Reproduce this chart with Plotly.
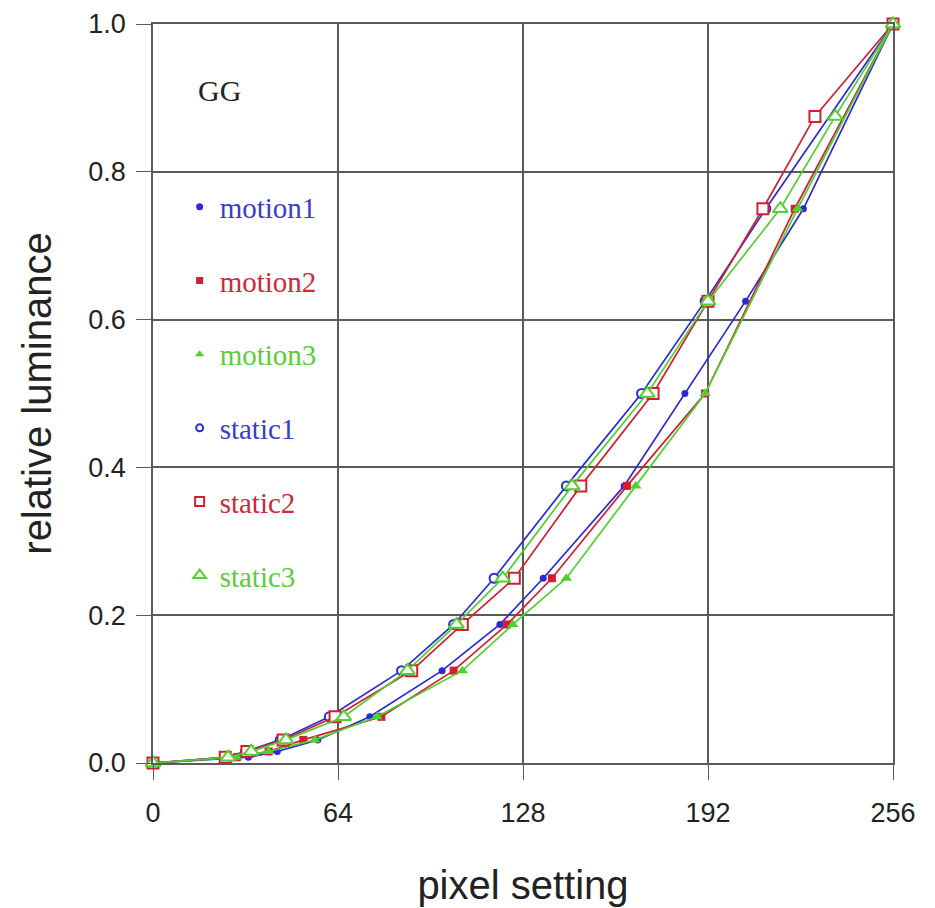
import plotly.graph_objects as go

# ---- data ----
levels_full = [0, 1/128, 1/64, 1/32, 1/16, 1/8, 3/16, 1/4, 3/8, 1/2, 5/8, 3/4, 7/8, 1.0]

motion1_x = [0, 33, 43, 57, 75, 100, 120, 135, 163, 184, 205, 225, 256]
motion1_y = [0, 1/128, 1/64, 1/32, 1/16, 1/8, 3/16, 1/4, 3/8, 1/2, 5/8, 3/4, 1.0]

motion2_x = [0, 29, 40, 52, 79, 104, 122.5, 138, 164, 191, 222, 256]
motion2_y = [0, 1/128, 1/64, 1/32, 1/16, 1/8, 3/16, 1/4, 3/8, 1/2, 3/4, 1.0]

motion3_x = [0, 29, 40, 56, 77.5, 107, 124.5, 143, 167, 191, 223, 256]
motion3_y = [0, 1/128, 1/64, 1/32, 1/16, 1/8, 3/16, 1/4, 3/8, 1/2, 3/4, 1.0]

static1_x = [0, 25, 32, 44, 61, 86, 104, 118, 143, 169, 191, 212, 256]
static1_y = [0, 1/128, 1/64, 1/32, 1/16, 1/8, 3/16, 1/4, 3/8, 1/2, 5/8, 3/4, 1.0]

static2_x = [0, 25, 32.5, 45, 63, 89.5, 107, 125, 148, 173, 192, 211, 229, 256]
static2_y = levels_full

static3_x = [0, 26, 34, 46, 66, 88, 105, 121, 145, 171, 192, 217, 236, 256]
static3_y = levels_full

x_ticks = [0, 64, 128, 192, 256]
y_ticks = [0.0, 0.2, 0.4, 0.6, 0.8, 1.0]
y_ticklabels = ["0.0", "0.2", "0.4", "0.6", "0.8", "1.0"]

BLUE = "#2a2ad6"
RED = "#d21f2f"
GREEN = "#4fd12f"
BLUE_T = "#3b3bcc"
RED_T = "#cc2a3a"
GREEN_T = "#5acc3a"

series = [
    ("motion1", motion1_x, motion1_y, BLUE, BLUE_T, dict(symbol="circle", size=7, color=BLUE, line=dict(width=0))),
    ("motion2", motion2_x, motion2_y, RED, RED_T, dict(symbol="square", size=8, color=RED, line=dict(width=0))),
    ("motion3", motion3_x, motion3_y, GREEN, GREEN_T, dict(symbol="triangle-up", size=10, color=GREEN, line=dict(width=0))),
    ("static1", static1_x, static1_y, BLUE, BLUE_T, dict(symbol="circle", size=9, color="white", line=dict(width=2, color=BLUE))),
    ("static2", static2_x, static2_y, RED, RED_T, dict(symbol="square", size=11, color="white", line=dict(width=2, color=RED))),
    ("static3", static3_x, static3_y, GREEN, GREEN_T, dict(symbol="triangle-up", size=13, color="white", line=dict(width=2, color=GREEN))),
]

fig = go.Figure()
for name, xs, ys, col, tcol, mk in series:
    fig.add_trace(go.Scatter(
        x=xs, y=ys, mode="lines+markers", name=name,
        line=dict(color=col, width=1.7), marker=mk,
        showlegend=False, cliponaxis=False,
    ))
# legend-only entries (marker only, coloured text)
for name, xs, ys, col, tcol, mk in series:
    lm = dict(mk)
    lm["size"] = max(7, mk["size"] - 2)
    if "line" in lm and lm["line"].get("width", 0) > 0:
        lm["line"] = dict(width=2, color=col)
    fig.add_trace(go.Scatter(
        x=[None], y=[None], mode="markers",
        name=f'<span style="color:{tcol}">{name}</span>',
        marker=lm, legendgroup=name, showlegend=True,
    ))

fig.add_annotation(
    x=0.058, y=0.91, xref="paper", yref="paper", xanchor="left", yanchor="middle",
    text="GG", showarrow=False,
    font=dict(family="Liberation Serif, Times New Roman, serif", size=30, color="#222"),
)

axis_common = dict(
    showgrid=True, gridcolor="#5a5a5a", gridwidth=1.5,
    showline=True, linecolor="#5a5a5a", linewidth=1.5, mirror=True,
    ticks="outside", ticklen=15, tickwidth=1.2, tickcolor="#5a5a5a",
    zeroline=False, automargin=False,
    tickfont=dict(family="Liberation Sans, Arial, sans-serif", size=27, color="#222"),
    title_font=dict(family="Liberation Sans, Arial, sans-serif", size=40, color="#222"),
)

fig.update_layout(
    width=935, height=908,
    margin=dict(l=153, r=42, t=24, b=145),
    paper_bgcolor="white", plot_bgcolor="white",
    xaxis=dict(range=[0, 256], tickvals=x_ticks, ticktext=[str(v) for v in x_ticks],
               ticklabelstandoff=10,
               title=dict(text="pixel setting", standoff=44), **axis_common),
    yaxis=dict(range=[0, 1.0], tickvals=y_ticks, ticktext=y_ticklabels,
               ticklabelstandoff=5,
               title=dict(text="relative luminance", standoff=24), **axis_common),
    legend=dict(
        x=0.036, y=0.787, xanchor="left", yanchor="top",
        bgcolor="rgba(0,0,0,0)", borderwidth=0,
        font=dict(family="Liberation Serif, Times New Roman, serif", size=29),
        tracegroupgap=33, traceorder="grouped",
    ),
)

fig.write_html("out.html")
